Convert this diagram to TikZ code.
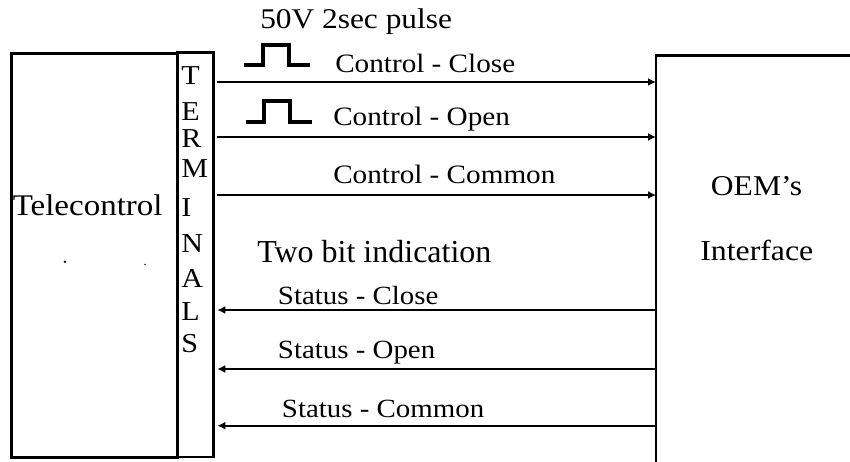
\documentclass[tikz,border=0pt]{standalone}
\usepackage{fontspec}
\setmainfont{Liberation Serif}[FakeStretch=1.1]
\newfontfamily\plainserif{Liberation Serif}
\usetikzlibrary{arrows.meta}
\begin{document}
\begin{tikzpicture}[x=0.75pt,y=-0.75pt,
  boxline/.style={draw,line width=2.2pt,inner sep=0pt,outer sep=0pt},
  arr/.style={line width=1.5pt,-{Latex[length=6pt,width=6pt]}},
  pulseline/.style={line width=3.4pt,line join=miter},
  lbl/.style={anchor=base west,inner sep=0pt,font=\fontsize{19.9pt}{22pt}\selectfont},
  big/.style={anchor=base west,inner sep=0pt,font=\fontsize{22.5pt}{24pt}\selectfont}]
\useasboundingbox (0,0) rectangle (850,461);
% boxes
\node[boxline,anchor=north west,minimum width=124.5pt,minimum height=302.8pt] (tele) at (11.7,53.3) {};
\node[boxline,anchor=north west,minimum width=26.7pt,minimum height=303.5pt] (term) at (177.7,52.3) {};
\coordinate (oemtop) at (656,55.7);
\draw[line width=2.2pt] (656,480) -- (oemtop) -- (880,55.7);
% texts
\node[big] (telelbl) at (12.5,215.5) {Telecontrol};
\fill (65,261.7) circle (1pt);
\fill (145,264.3) circle (0.6pt);
\foreach \ch/\yy [count=\i] in {T/84,E/120,R/147,M/177,I/216,N/252,A/287,L/320,S/352}
  \node[lbl,font=\fontsize{20.5pt}{22pt}\selectfont] (t\i) at (181,\yy) {\ch};
\node[anchor=base west,inner sep=0pt,font=\fontsize{21.4pt}{24pt}\selectfont] (pulse) at (260,28.3) {50V 2sec pulse};
\node[lbl] (cclose) at (335,72) {Control - Close};
\node[lbl] (copen) at (333,125) {Control - Open};
\node[lbl] (ccommon) at (333,183) {Control - Common};
\node[anchor=base west,inner sep=0pt,font=\plainserif\fontsize{24pt}{26pt}\selectfont] (twobit) at (257,262) {Two bit indication};
\node[lbl,font=\fontsize{19.7pt}{22pt}\selectfont] (sclose) at (277.7,304) {Status - Close};
\node[lbl,font=\fontsize{19.7pt}{22pt}\selectfont] (sopen) at (277.7,358.3) {Status - Open};
\node[lbl,font=\fontsize{19.7pt}{22pt}\selectfont] (scommon) at (281.7,417.7) {Status - Common};
\node[anchor=base west,inner sep=0pt,font=\fontsize{21.5pt}{24pt}\selectfont] (oem1) at (710.7,195) {OEM’s};
\node[anchor=base west,inner sep=0pt,font=\fontsize{21.7pt}{24pt}\selectfont] (oem2) at (700,260.7) {Interface};
% pulses
\draw[pulseline] (244,65) -- (263,65) -- (263,45) -- (289,45) -- (289,65) -- (310,65);
\draw[pulseline] (246,122) -- (264,122) -- (264,101) -- (290,101) -- (290,122) -- (312,122);
% connectors
\foreach \n/\yy in {a/82,b/137,c/195,d/310,e/369,f/425.7}
  \coordinate (y\n) at (0,\yy);
\foreach \n in {a,b,c}
  \draw[arr,shorten <=3pt] (term.east |- y\n) -- (oemtop |- y\n);
\foreach \n in {d,e,f}
  \draw[arr,shorten >=3pt] (oemtop |- y\n) -- (term.east |- y\n);
\end{tikzpicture}
\end{document}
